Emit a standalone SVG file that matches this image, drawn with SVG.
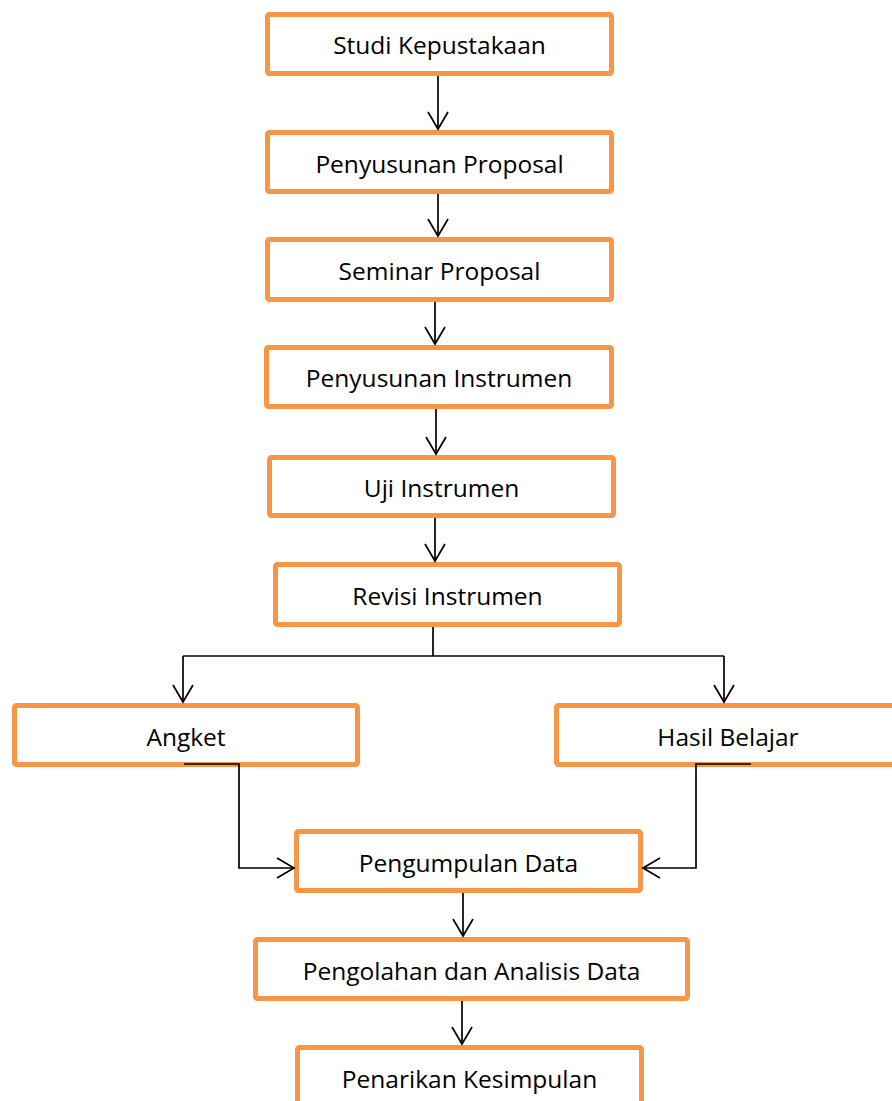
<svg xmlns="http://www.w3.org/2000/svg" width="892" height="1101" viewBox="0 0 892 1101">
<style>
.box{fill:#fff;stroke:#F79646;stroke-width:5}
.lbl{font-family:"Open Sans","Liberation Sans",sans-serif;font-size:24.5px;fill:#000;text-anchor:middle}
.con{fill:none;stroke:#000;stroke-width:1.7}
</style>
<defs>
<marker id="ah" markerUnits="userSpaceOnUse" markerWidth="24" markerHeight="24" viewBox="-19 -12 22 24" refX="0" refY="0" orient="auto">
<path d="M-17,-10 L0,0 L-17,10" fill="none" stroke="#000" stroke-width="1.7"/>
</marker>
</defs>
<rect width="892" height="1101" fill="#fff"/>
<g id="n1"><rect class="box" x="267.5" y="14.5" width="344" height="59" rx="2"/><text class="lbl" x="439.5" y="54">Studi Kepustakaan</text></g>
<g id="n2"><rect class="box" x="267.5" y="132.5" width="344" height="59" rx="2"/><text class="lbl" x="439.5" y="173">Penyusunan Proposal</text></g>
<g id="n3"><rect class="box" x="267.5" y="239.5" width="344" height="60" rx="2"/><text class="lbl" x="439.5" y="280">Seminar Proposal</text></g>
<g id="n4"><rect class="box" x="266.5" y="347.5" width="345" height="59" rx="2"/><text class="lbl" x="439" y="387">Penyusunan Instrumen</text></g>
<g id="n5"><rect class="box" x="269.5" y="457.5" width="344" height="58" rx="2"/><text class="lbl" x="441.5" y="497">Uji Instrumen</text></g>
<g id="n6"><rect class="box" x="275.5" y="564.5" width="344" height="60" rx="2"/><text class="lbl" x="447.5" y="605">Revisi Instrumen</text></g>
<g id="n7"><rect class="box" x="14.5" y="705.5" width="343" height="59" rx="2"/><text class="lbl" x="186" y="746">Angket</text></g>
<g id="n8"><rect class="box" x="556.5" y="705.5" width="343" height="59" rx="2"/><text class="lbl" x="728" y="746">Hasil Belajar</text></g>
<g id="n9"><rect class="box" x="296.5" y="831.5" width="344" height="59" rx="2"/><text class="lbl" x="468.5" y="872">Pengumpulan Data</text></g>
<g id="n10"><rect class="box" x="255.5" y="939.5" width="432" height="59" rx="2"/><text class="lbl" x="471.5" y="980">Pengolahan dan Analisis Data</text></g>
<g id="n11"><rect class="box" x="297.5" y="1047.5" width="344" height="59" rx="2"/><text class="lbl" x="469.5" y="1088">Penarikan Kesimpulan</text></g>
<g id="connectors">
<path class="con" d="M438,76 V129" marker-end="url(#ah)"/>
<path class="con" d="M438,194 V236" marker-end="url(#ah)"/>
<path class="con" d="M435,302 V344" marker-end="url(#ah)"/>
<path class="con" d="M436,409 V454" marker-end="url(#ah)"/>
<path class="con" d="M435,518 V561" marker-end="url(#ah)"/>
<path class="con" d="M433,627 V656"/>
<path class="con" d="M183,656 H724"/>
<path class="con" d="M183,656 V702" marker-end="url(#ah)"/>
<path class="con" d="M724,656 V702" marker-end="url(#ah)"/>
<path class="con" d="M184,764 H239 V868 H294" marker-end="url(#ah)"/>
<path class="con" d="M751,764 H696 V868 H643" marker-end="url(#ah)"/>
<path class="con" d="M463,893 V936" marker-end="url(#ah)"/>
<path class="con" d="M462,1001 V1044" marker-end="url(#ah)"/>
</g>
</svg>
